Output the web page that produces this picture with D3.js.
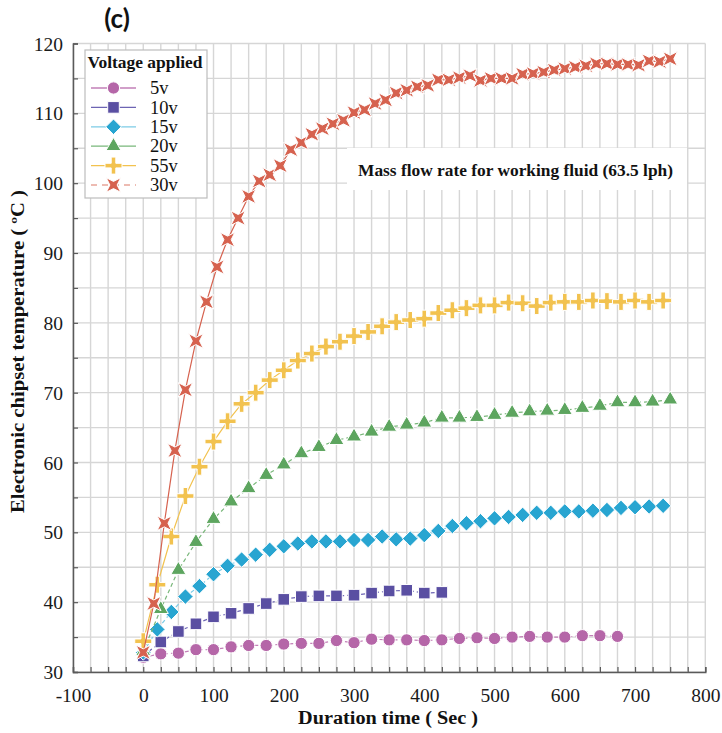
<!DOCTYPE html>
<html>
<head>
<meta charset="utf-8">
<script src="https://cdn.jsdelivr.net/npm/d3@7"></script>
<style>
  html, body { margin: 0; padding: 0; background: #ffffff; }
  svg { display: block; }
</style>
</head>
<body>
<svg id="chart" width="722" height="733"></svg>
<script>
// ---- data: chipset temperature (°C) against duration (s) for each applied voltage ----
const seriesNames = ["5v", "10v", "15v", "20v", "55v", "30v"];

const time5v = [0, 25, 50, 75, 100, 125, 150, 175, 200, 225, 250, 275, 300, 325, 350, 375, 400, 425, 450, 475, 500, 525, 550, 575, 600, 625, 650, 675];
const temp5v = [32.1, 32.6, 32.7, 33.2, 33.2, 33.6, 33.8, 33.8, 34.0, 34.1, 34.1, 34.5, 34.2, 34.7, 34.6, 34.6, 34.5, 34.6, 34.8, 34.9, 34.8, 35.0, 35.1, 35.0, 35.0, 35.2, 35.2, 35.1];

const time10v = [0, 25, 50, 75, 100, 125, 150, 175, 200, 225, 250, 275, 300, 325, 350, 375, 400, 425];
const temp10v = [32.3, 34.3, 35.8, 36.9, 37.9, 38.4, 39.1, 39.8, 40.4, 40.8, 40.9, 40.9, 41.0, 41.3, 41.6, 41.7, 41.3, 41.4];

const time15v = [0, 20, 40, 60, 80, 100, 120, 140, 160, 180, 200, 220, 240, 260, 280, 300, 320, 340, 360, 380, 400, 420, 440, 460, 480, 500, 520, 540, 560, 580, 600, 620, 640, 660, 680, 700, 720, 740];
const temp15v = [32.8, 36.1, 38.6, 40.8, 42.3, 44.0, 45.2, 46.1, 46.8, 47.5, 48.0, 48.4, 48.7, 48.7, 48.7, 48.9, 48.9, 49.4, 49.0, 49.1, 49.6, 50.2, 50.9, 51.3, 51.6, 52.0, 52.2, 52.5, 52.8, 52.8, 53.0, 53.0, 53.1, 53.2, 53.5, 53.6, 53.7, 53.8];

const time20v = [0, 25, 50, 75, 100, 125, 150, 175, 200, 225, 250, 275, 300, 325, 350, 375, 400, 425, 450, 475, 500, 525, 550, 575, 600, 625, 650, 675, 700, 725, 750];
const temp20v = [33.0, 39.0, 44.6, 48.6, 51.9, 54.4, 56.3, 58.2, 59.7, 61.3, 62.2, 63.2, 63.7, 64.4, 65.1, 65.4, 65.7, 66.4, 66.4, 66.5, 66.8, 67.1, 67.3, 67.4, 67.5, 67.8, 68.1, 68.6, 68.6, 68.7, 69.0];

const time55v = [0, 20, 40, 60, 80, 100, 120, 140, 160, 180, 200, 220, 240, 260, 280, 300, 320, 340, 360, 380, 400, 420, 440, 460, 480, 500, 520, 540, 560, 580, 600, 620, 640, 660, 680, 700, 720, 740];
const temp55v = [34.4, 42.5, 49.4, 55.2, 59.4, 63.0, 65.9, 68.4, 70.0, 71.8, 73.2, 74.6, 75.6, 76.6, 77.3, 78.1, 78.7, 79.5, 80.1, 80.4, 80.6, 81.4, 81.8, 82.1, 82.5, 82.5, 82.9, 82.8, 82.4, 82.9, 83.0, 83.0, 83.2, 83.1, 83.0, 83.2, 83.0, 83.2];

const time30v = [0, 15, 30, 45, 60, 75, 90, 105, 120, 135, 150, 165, 180, 195, 210, 225, 240, 255, 270, 285, 300, 315, 330, 345, 360, 375, 390, 405, 420, 435, 450, 465, 480, 495, 510, 525, 540, 555, 570, 585, 600, 615, 630, 645, 660, 675, 690, 705, 720, 735, 750];
const temp30v = [32.8, 39.8, 51.3, 61.7, 70.4, 77.4, 83.0, 88.0, 91.9, 95.0, 98.1, 100.3, 101.2, 102.5, 104.8, 105.8, 107.0, 107.8, 108.5, 109.0, 110.1, 110.5, 111.4, 111.9, 112.9, 113.3, 113.8, 114.0, 114.8, 114.8, 115.1, 115.4, 114.7, 115.0, 115.0, 115.0, 115.6, 115.7, 115.9, 116.2, 116.4, 116.6, 116.8, 117.1, 117.1, 117.0, 117.0, 116.9, 117.5, 117.4, 117.8];

const xTickLabels = [-100, 0, 100, 200, 300, 400, 500, 600, 700, 800];
const yTickLabels = [30, 40, 50, 60, 70, 80, 90, 100, 110, 120];

const titleText = "(c)";
const xTitle = "Duration time ( Sec )";
const yTitle = "Electronic chipset temperature ( \u00baC )";
const legendTitle = "Voltage applied";
const noteText = "Mass flow rate for working fluid (63.5 lph)";

// ---- custom marker shapes ----
const symPlus = {
  draw(ctx, size) {
    const a = Math.sqrt(size) / 2, t = a * 0.27;
    ctx.moveTo(-t, -a); ctx.lineTo(t, -a); ctx.lineTo(t, -t); ctx.lineTo(a, -t);
    ctx.lineTo(a, t); ctx.lineTo(t, t); ctx.lineTo(t, a); ctx.lineTo(-t, a);
    ctx.lineTo(-t, t); ctx.lineTo(-a, t); ctx.lineTo(-a, -t); ctx.lineTo(-t, -t);
    ctx.closePath();
  }
};
const symStarX = {
  draw(ctx, size) {
    const s = Math.sqrt(size) / 2, i = s * 0.5;
    ctx.moveTo(0, -i); ctx.lineTo(s, -s); ctx.lineTo(i, 0); ctx.lineTo(s, s);
    ctx.lineTo(0, i); ctx.lineTo(-s, s); ctx.lineTo(-i, 0); ctx.lineTo(-s, -s);
    ctx.closePath();
  }
};
const symRhombus = {
  draw(ctx, size) {
    const s = Math.sqrt(size) / 2;
    ctx.moveTo(0, -s); ctx.lineTo(s, 0); ctx.lineTo(0, s); ctx.lineTo(-s, 0);
    ctx.closePath();
  }
};

const series = [
  { name: seriesNames[0], t: time5v,  v: temp5v,  color: "#b566a8", line: "#c27fb7", dash: "4,3", legendDash: null, shape: d3.symbolCircle,   size: 118 },
  { name: seriesNames[1], t: time10v, v: temp10v, color: "#5a4fa2", line: "#6d64b3", dash: "4,3", legendDash: null, shape: d3.symbolSquare,   size: 135 },
  { name: seriesNames[2], t: time15v, v: temp15v, color: "#28a5d1", line: "#7ccbe6", dash: "4,3", legendDash: null, shape: symRhombus,       size: 240 },
  { name: seriesNames[3], t: time20v, v: temp20v, color: "#5da55f", line: "#79b77a", dash: "4,3", legendDash: null, shape: d3.symbolTriangle, size: 98  },
  { name: seriesNames[4], t: time55v, v: temp55v, color: "#f2c24f", line: "#f2c24f", dash: null,  legendDash: null, shape: symPlus,          size: 290 },
  { name: seriesNames[5], t: time30v, v: temp30v, color: "#d6624f", line: "#d6624f", dash: null,  legendDash: "6,5", legendLine: "#e8a599", shape: symStarX, size: 210 }
];

// ---- layout ----
const svg = d3.select("#chart");
const x = d3.scaleLinear().domain([-100, 800]).range([73, 705.3]);
const y = d3.scaleLinear().domain([30, 120]).range([672, 43.5]);

const serif = "'Liberation Serif', 'Times New Roman', serif";

// grid
const grid = svg.append("g").attr("class", "grid");
const xGridVals = d3.range(-100, 801, 25);
const yGridVals = d3.range(30, 121, 5);
grid.selectAll("line.v").data(xGridVals).join("line")
  .attr("class", "v")
  .attr("x1", d => x(d)).attr("x2", d => x(d))
  .attr("y1", y(30)).attr("y2", y(120))
  .attr("stroke", "#d6d6d6").attr("stroke-width", 1.4);
grid.selectAll("line.h").data(yGridVals).join("line")
  .attr("class", "h")
  .attr("x1", x(-100)).attr("x2", x(800))
  .attr("y1", d => y(d)).attr("y2", d => y(d))
  .attr("stroke", "#d6d6d6").attr("stroke-width", 1.4);

// axes
const xAxis = d3.axisBottom(x)
  .tickValues(xGridVals)
  .tickSize(-5)
  .tickPadding(16)
  .tickFormat(d => xTickLabels.includes(d) ? String(d) : "");
const gx = svg.append("g").attr("transform", `translate(0,${y(30)})`).call(xAxis);

const yAxis = d3.axisLeft(y)
  .tickValues(yGridVals)
  .tickSize(-5)
  .tickPadding(10)
  .tickFormat(d => yTickLabels.includes(d) ? String(d) : "");
const gy = svg.append("g").attr("transform", `translate(${x(-100)},0)`).call(yAxis);

[gx, gy].forEach(g => {
  g.attr("font-family", null).attr("font-size", null);
  g.select(".domain").attr("stroke", "#5a5a5a").attr("stroke-width", 1.5);
  g.selectAll(".tick line").attr("stroke", "#5a5a5a").attr("stroke-width", 1.2);
  g.selectAll(".tick text")
    .attr("fill", "#1a1a1a")
    .style("font-family", serif)
    .style("font-size", "19.5px");
});
gy.selectAll(".tick text").attr("dy", "0.34em");

// annotation box
svg.append("rect")
  .attr("x", 347).attr("y", 148).attr("width", 340).attr("height", 42)
  .attr("fill", "#ffffff");
svg.append("text")
  .attr("x", 358).attr("y", 176)
  .attr("textLength", 315).attr("lengthAdjust", "spacingAndGlyphs")
  .style("font-family", serif).style("font-size", "16.5px").style("font-weight", "bold")
  .attr("fill", "#111")
  .text(noteText);

// series
const plot = svg.append("g").attr("class", "series");
series.forEach(s => {
  const pts = s.t.map((t, i) => ({ t, v: s.v[i] }));
  const g = plot.append("g");
  g.append("path")
    .datum(pts)
    .attr("fill", "none")
    .attr("stroke", s.line)
    .attr("stroke-width", 1.2)
    .attr("stroke-dasharray", s.dash)
    .attr("d", d3.line().x(d => x(d.t)).y(d => y(d.v)));
  g.selectAll("path.m").data(pts).join("path")
    .attr("class", "m")
    .attr("transform", d => `translate(${x(d.t)},${y(d.v)})`)
    .attr("d", d3.symbol().type(s.shape).size(s.size))
    .attr("fill", s.color)
    .attr("stroke", "#ffffff")
    .attr("stroke-width", 1);
});

// legend
const lg = svg.append("g").attr("transform", "translate(85,50)");
lg.append("rect")
  .attr("x", 0).attr("y", 0).attr("width", 122).attr("height", 148)
  .attr("fill", "#ffffff").attr("stroke", "#bdbdbd").attr("stroke-width", 1.2);
lg.append("text")
  .attr("x", 2.5).attr("y", 18)
  .attr("textLength", 115).attr("lengthAdjust", "spacingAndGlyphs")
  .style("font-family", serif).style("font-size", "16.5px").style("font-weight", "bold")
  .attr("fill", "#111")
  .text(legendTitle);
series.forEach((s, i) => {
  const cy = 38 + i * 19.4;
  const row = lg.append("g").attr("transform", `translate(0,${cy})`);
  row.append("line")
    .attr("x1", 6).attr("x2", 51).attr("y1", 0).attr("y2", 0)
    .attr("stroke", s.legendLine || s.line)
    .attr("stroke-width", 1.3)
    .attr("stroke-dasharray", s.legendDash);
  row.append("path")
    .attr("transform", "translate(28.5,0)")
    .attr("d", d3.symbol().type(s.shape).size(s.size))
    .attr("fill", s.color)
    .attr("stroke", "#ffffff").attr("stroke-width", 1);
  row.append("text")
    .attr("x", 65).attr("y", 0).attr("dy", "0.34em")
    .style("font-family", serif).style("font-size", "18.5px")
    .attr("fill", "#111")
    .text(s.name);
});

// titles
svg.append("text")
  .attr("x", 117).attr("y", 28).attr("text-anchor", "middle")
  .style("font-family", "Lato, 'Open Sans', sans-serif").style("font-size", "26px").style("font-weight", "bold")
  .attr("fill", "#111")
  .text(titleText);
svg.append("text")
  .attr("x", 298).attr("y", 724)
  .attr("textLength", 180).attr("lengthAdjust", "spacingAndGlyphs")
  .style("font-family", serif).style("font-size", "18px").style("font-weight", "bold")
  .attr("fill", "#111")
  .text(xTitle);
svg.append("text")
  .attr("transform", "translate(24,513) rotate(-90)")
  .attr("textLength", 323).attr("lengthAdjust", "spacingAndGlyphs")
  .style("font-family", serif).style("font-size", "18px").style("font-weight", "bold")
  .attr("fill", "#111")
  .text(yTitle);
</script>
</body>
</html>
